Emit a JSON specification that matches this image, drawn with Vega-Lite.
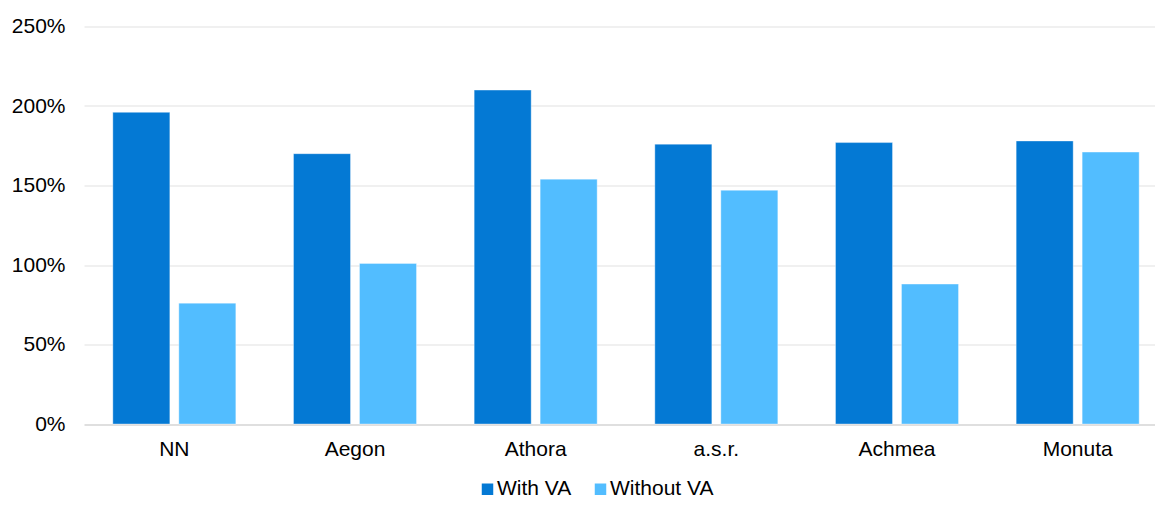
{
  "$schema": "https://vega.github.io/schema/vega-lite/v6.json",
  "autosize": {"type": "none"},
  "padding": {"left": 84, "top": 26.5, "right": 0, "bottom": 82},
  "width": 1071,
  "height": 397.5,
  "background": "white",
  "config": {
    "font": "Liberation Sans",
    "view": {"stroke": null}
  },
  "data": {
    "values": [
      {"company": "NN", "series": "With VA", "ratio": 196},
      {"company": "NN", "series": "Without VA", "ratio": 76},
      {"company": "Aegon", "series": "With VA", "ratio": 170},
      {"company": "Aegon", "series": "Without VA", "ratio": 101},
      {"company": "Athora", "series": "With VA", "ratio": 210},
      {"company": "Athora", "series": "Without VA", "ratio": 154},
      {"company": "a.s.r.", "series": "With VA", "ratio": 176},
      {"company": "a.s.r.", "series": "Without VA", "ratio": 147},
      {"company": "Achmea", "series": "With VA", "ratio": 177},
      {"company": "Achmea", "series": "Without VA", "ratio": 88},
      {"company": "Monuta", "series": "With VA", "ratio": 178},
      {"company": "Monuta", "series": "Without VA", "ratio": 171}
    ]
  },
  "mark": {"type": "bar", "stroke": "#ffffff", "strokeOpacity": 0.45, "strokeWidth": 0.8},
  "encoding": {
    "x": {
      "field": "company",
      "type": "nominal",
      "sort": null,
      "scale": {"range": [0, 1084], "paddingInner": 0, "paddingOuter": 0},
      "axis": {
        "title": null,
        "labelAngle": 0,
        "labelFontSize": 21,
        "labelColor": "#000000",
        "labelPadding": 14,
        "ticks": false,
        "domain": false
      }
    },
    "xOffset": {
      "field": "series",
      "type": "nominal",
      "scale": {"paddingInner": 0.136, "paddingOuter": 0.437}
    },
    "y": {
      "field": "ratio",
      "type": "quantitative",
      "scale": {"domain": [0, 250], "nice": false},
      "axis": {
        "title": null,
        "values": [0, 50, 100, 150, 200, 250],
        "labelExpr": "datum.value + '%'",
        "labelFontSize": 21,
        "labelColor": "#000000",
        "labelPadding": 19,
        "ticks": false,
        "domain": false,
        "gridColor": {"condition": {"test": "datum.value === 0", "value": "#BFBFBF"}, "value": "#E2E2E2"},
        "gridWidth": 1.2
      }
    },
    "color": {
      "field": "series",
      "type": "nominal",
      "scale": {"domain": ["With VA", "Without VA"], "range": ["#0479D4", "#52BDFF"]},
      "legend": {
        "title": null,
        "orient": "none",
        "direction": "horizontal",
        "legendX": 393,
        "legendY": 452,
        "symbolType": "square",
        "symbolSize": 132,
        "symbolStrokeWidth": 0,
        "labelFontSize": 21,
        "labelColor": "#000000",
        "labelOffset": -1,
        "columnPadding": 18
      }
    }
  }
}
